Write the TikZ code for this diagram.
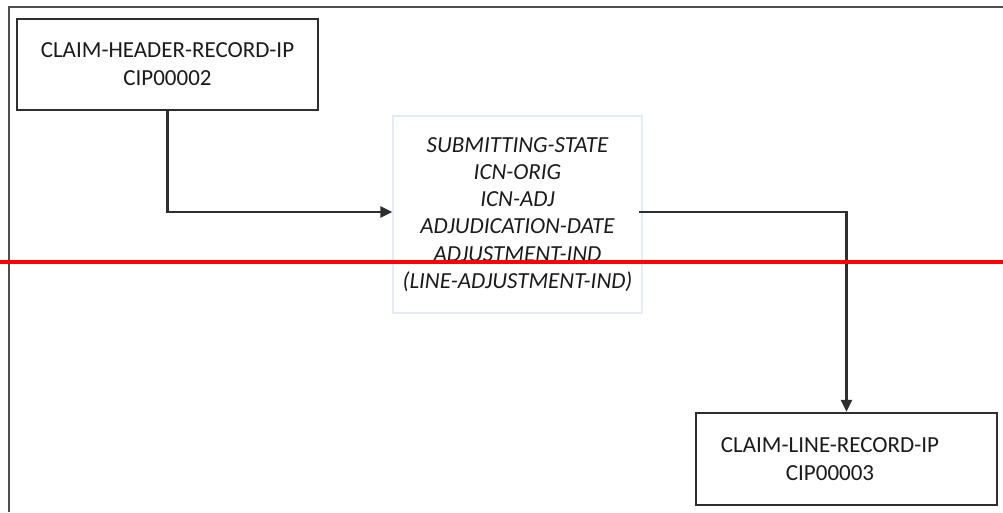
\documentclass[tikz,border=0pt]{standalone}
\usepackage{fontspec}
\setmainfont{Carlito}
\usetikzlibrary{arrows.meta}
\definecolor{linegray}{HTML}{2E2E2E}
\definecolor{txtgray}{HTML}{1A1A1A}
\definecolor{faintblue}{HTML}{E3ECF6}
\tikzset{
  recbox/.style={draw=linegray, line width=2.2pt, minimum width=301pt, minimum height=91pt, inner sep=0pt},
  fieldbox/.style={draw=faintblue, line width=1.4pt, minimum width=249pt, minimum height=197pt, inner sep=0pt},
  boxtext/.style={text=txtgray, align=center, font=\fontsize{23pt}{28pt}\selectfont, inner sep=0pt},
  fieldtext/.style={text=txtgray, align=center, font=\fontsize{23pt}{27.2pt}\selectfont\itshape, inner sep=0pt},
  conn/.style={draw=linegray, line width=2.4pt, -{Triangle[length=12pt,width=11pt]}},
  frame/.style={draw=linegray!85, line width=2.2pt},
  redline/.style={draw=red, line width=3.5pt}
}
\begin{document}
\begin{tikzpicture}[x=1pt,y=-1pt]
\useasboundingbox (0,0) rectangle (1003,512);
\coordinate (fbl) at (9,512);
\coordinate (ftl) at (9,7);
\coordinate (ftr) at (1003,7);
\draw[frame] (fbl) -- (ftl) -- (ftr);
\node[recbox, boxtext] (hdr) at (167.5,64.5) {CLAIM-HEADER-RECORD-IP\\CIP00002};
\node[fieldbox] (mid) at (517.5,214.5) {};
\node[fieldtext] (midtext) at (517.5,214.5) {SUBMITTING-STATE\\ICN-ORIG\\ICN-ADJ\\ADJUDICATION-DATE\\ADJUSTMENT-IND\\(LINE-ADJUSTMENT-IND)};
\node[recbox, minimum height=92pt] (line) at (846.5,459) {};
\node[boxtext] (linetext) at (830,459) {CLAIM-LINE-RECORD-IP\\CIP00003};
\draw[conn] (hdr.south) |- ([yshift=2.5pt]mid.west);
\draw[conn] ([yshift=2.5pt,xshift=-4pt]mid.east) -| (line.north);
\coordinate (rl) at (0,262);
\coordinate (rr) at (1003,262);
\draw[redline] (rl) -- (rr);
\end{tikzpicture}
\end{document}
